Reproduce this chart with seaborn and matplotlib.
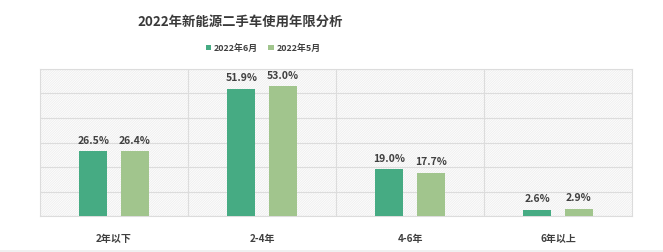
import matplotlib
matplotlib.use("Agg")
import matplotlib.pyplot as plt
import seaborn as sns
import pandas as pd
from matplotlib.patches import Rectangle, Patch

categories = ["2年以下", "2-4年", "4-6年", "6年以上"]
series_names = ["2022年6月", "2022年5月"]
june = [26.5, 51.9, 19.0, 2.6]
may = [26.4, 53.0, 17.7, 2.9]
title = "2022年新能源二手车使用年限分析"
colors = ["#46ab83", "#a1c58d"]

df = pd.DataFrame({
    "cat": categories * 2,
    "series": [series_names[0]] * 4 + [series_names[1]] * 4,
    "val": june + may,
})

sns.set_theme(style="white")
plt.rcParams["font.family"] = ["Noto Sans CJK SC", "DejaVu Sans"]
plt.rcParams["hatch.linewidth"] = 0.5

fig = plt.figure(figsize=(6.63, 2.52), dpi=100)
ax = fig.add_axes([40 / 663, 36 / 252, 592 / 663, 147 / 252])

bg = Rectangle((0, 0), 1, 1, transform=ax.transAxes, facecolor="#fdfdfd",
               edgecolor="#ececec", hatch="/" * 14, lw=0, zorder=0)
ax.add_patch(bg)

sns.barplot(data=df, x="cat", y="val", hue="series", order=categories,
            hue_order=series_names, palette=colors, width=0.56, gap=0.32,
            ax=ax, legend=False, zorder=3, saturation=1, edgecolor="none")

for cont in ax.containers:
    ax.bar_label(cont, labels=[f"{v:.1f}%" for v in cont.datavalues],
                 padding=4, fontsize=7.5, fontweight="bold", color="#404040")

ax.set_ylim(0, 60)
ax.set_xlim(-0.5, 3.5)
ax.set_yticks(range(0, 61, 10))
ax.set_yticklabels([])
ax.tick_params(axis="y", length=0)
ax.set_xticks(range(len(categories)))
ax.set_xticklabels(categories, fontsize=7.2, fontweight="bold", color="#404040")
ax.tick_params(axis="x", length=0, pad=13)
ax.set_xlabel("")
ax.set_ylabel("")
ax.grid(axis="y", color="#dcdcdc", lw=0.8, zorder=1)
for xv in [0.5, 1.5, 2.5]:
    ax.axvline(xv, color="#dcdcdc", lw=0.8, zorder=1)
ax.set_axisbelow(True)
for s in ax.spines.values():
    s.set_color("#dcdcdc")
    s.set_linewidth(0.8)

fig.text(240 / 663, 1 - 22 / 252, title, ha="center", va="center",
         fontsize=9.6, fontweight="bold", color="#3a3a3a")

handles = [Patch(facecolor=c, edgecolor="none") for c in colors]
fig.legend(handles, series_names, loc="center", bbox_to_anchor=(263 / 663, 1 - 48 / 252),
           ncol=2, frameon=False, handlelength=0.6, handleheight=0.6,
           handletextpad=0.3, columnspacing=1.2, prop={"weight": "bold", "size": 6.4})
for t in fig.legends[0].get_texts():
    t.set_color("#404040")

fig.patches.append(Rectangle((0, 0), 1, 2 / 252, transform=fig.transFigure,
                             facecolor="#f0f0f0", edgecolor="none"))

fig.savefig("out.png", dpi=100)
